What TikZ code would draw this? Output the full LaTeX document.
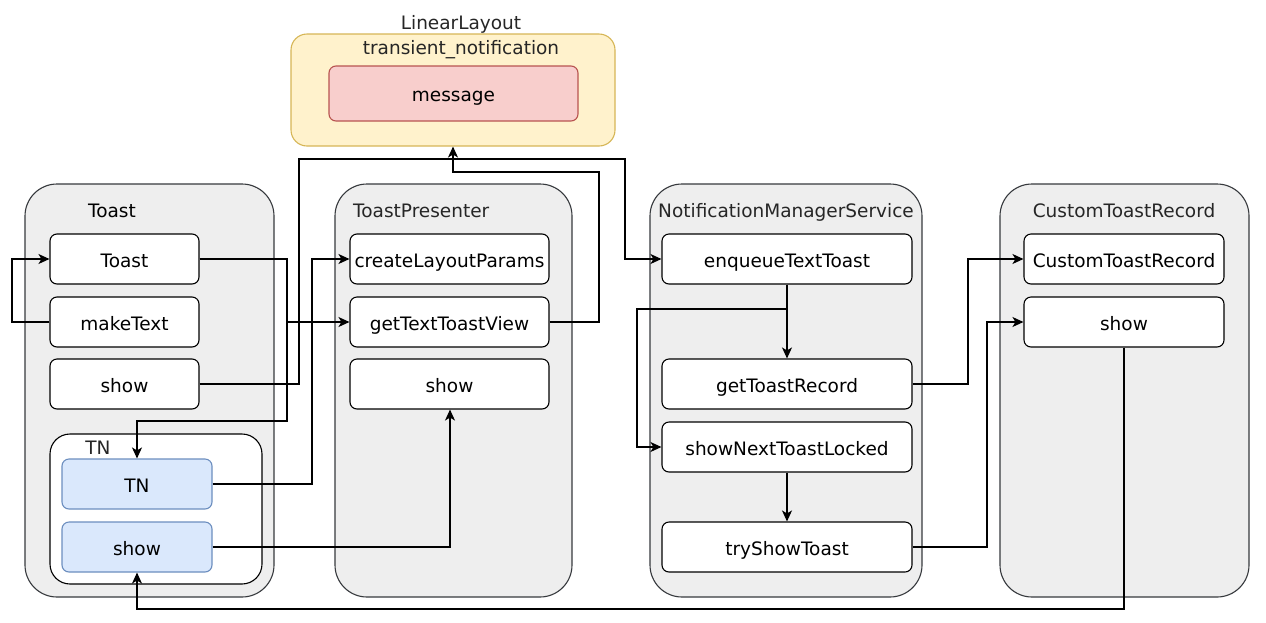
\documentclass[tikz,border=0pt]{standalone}
\usepackage{fontspec}
\setmainfont{DejaVu Sans}
\usetikzlibrary{arrows.meta}
\definecolor{contfill}{HTML}{EEEEEE}
\definecolor{contdraw}{HTML}{36393D}
\definecolor{bluefill}{HTML}{DAE8FC}
\definecolor{bluedraw}{HTML}{6C8EBF}
\definecolor{yelfill}{HTML}{FFF2CC}
\definecolor{yeldraw}{HTML}{D6B656}
\definecolor{redfill}{HTML}{F8CECC}
\definecolor{reddraw}{HTML}{B85450}
\tikzset{
  container/.style={draw=contdraw, fill=contfill, line width=1.1pt, rounded corners=32pt, inner sep=0pt, minimum width=#1, minimum height=413pt},
  box/.style={draw=black, fill=white, line width=1.1pt, rounded corners=7pt, inner sep=0pt, minimum width=149pt, minimum height=50pt, text height=16pt, text depth=0pt, font=\fontsize{18.5}{22}\selectfont},
  bluebox/.style={box, draw=bluedraw, fill=bluefill},
  wbox/.style={box, minimum width=199pt},
  lbl/.style={inner sep=0pt, anchor=base, font=\fontsize{18.5}{22}\selectfont, text=black!85},
  arr/.style={draw=black, line width=1.2pt, -{Stealth[length=11pt,width=10pt,inset=3pt]}},
}
\begin{document}
\begin{tikzpicture}[x=1pt,y=-1pt]
\useasboundingbox (0,0) rectangle (1266,622);
% containers
\node[container=249pt] (cToast) at (149.5,390.5) {};
\node[container=237pt] (cPres) at (453.5,390.5) {};
\node[container=272pt] (cNMS) at (786,390.5) {};
\node[container=249pt] (cCTR) at (1124.5,390.5) {};
\node[draw=yeldraw, fill=yelfill, line width=1.1pt, rounded corners=16pt, minimum width=324pt, minimum height=112pt, inner sep=0pt] (lin) at (453,90) {};
\node[draw=black, fill=white, line width=1.1pt, rounded corners=20pt, minimum width=212pt, minimum height=150pt, inner sep=0pt] (cTN) at (156,509) {};
% titles
\node[lbl, text=black] (tToast) at (112,217) {Toast};
\node[lbl, anchor=base west] (tPres) at (353,217) {ToastPresenter};
\node[lbl] (tNMS) at (786,217) {NotificationManagerService};
\node[lbl] (tCTR) at (1124,217) {CustomToastRecord};
\node[lbl] (tLin) at (461,29) {LinearLayout};
\node[lbl] (tTrans) at (461,54) {transient\_notification};
\node[lbl] (tTN) at (98,454) {TN};
% message
\node[box, draw=reddraw, fill=redfill, minimum width=249pt, minimum height=55pt] (msg) at (453.5,93.5) {message};
% Toast
\node[box] (toast) at (124.5,259) {Toast};
\node[box] (make) at (124.5,322) {makeText};
\node[box] (tshow) at (124.5,384) {show};
\node[bluebox, minimum width=150pt] (tn) at (137,484) {TN};
\node[bluebox, minimum width=150pt] (tnshow) at (137,547) {show};
% ToastPresenter
\node[wbox] (clp) at (449.5,259) {createLayoutParams};
\node[wbox] (gttv) at (449.5,322) {getTextToastView};
\node[wbox] (pshow) at (449.5,384) {show};
% NMS
\node[wbox, minimum width=250pt] (enq) at (787,259) {enqueueTextToast};
\node[wbox, minimum width=250pt] (gtr) at (787,384) {getToastRecord};
\node[wbox, minimum width=250pt] (snt) at (787,447) {showNextToastLocked};
\node[wbox, minimum width=250pt] (try) at (787,547) {tryShowToast};
% CTR
\node[wbox, minimum width=200pt] (ctr) at (1124,259) {CustomToastRecord};
\node[wbox, minimum width=200pt] (cshow) at (1124,322) {show};
% connectors
\draw[arr] (make.west) -- (12,322) -- (12,259) -- (toast.west);
\draw[arr] (toast.east) -- (287,259) -- (287,421) -- (137,421) -- (tn.north);
\draw[arr] (toast.east) -- (287,259) -- (287,322) -- (gttv.west);
\draw[arr] (tshow.east) -- (299,384) -- (299,159) -- (625,159) -- (625,259) -- (enq.west);
\draw[arr] (gttv.east) -- (599,322) -- (599,172) -- (453,172) -- (lin.south);
\draw[arr] (tn.east) -- (312,484) -- (312,259) -- (clp.west);
\draw[arr] (tnshow.east) -- (450,547) -- (pshow.south -| 450,0);
\draw[arr] (enq.south) -- (gtr.north);
\draw[arr] (enq.south) -- (787,309) -- (637,309) -- (637,447) -- (snt.west);
\draw[arr] (snt.south) -- (try.north);
\draw[arr] (gtr.east) -- (968,384) -- (968,259) -- (ctr.west);
\draw[arr] (try.east) -- (987,547) -- (987,322) -- (cshow.west);
\draw[arr] (cshow.south) -- (1124,609) -- (137,609) -- (tnshow.south);
\end{tikzpicture}
\end{document}
